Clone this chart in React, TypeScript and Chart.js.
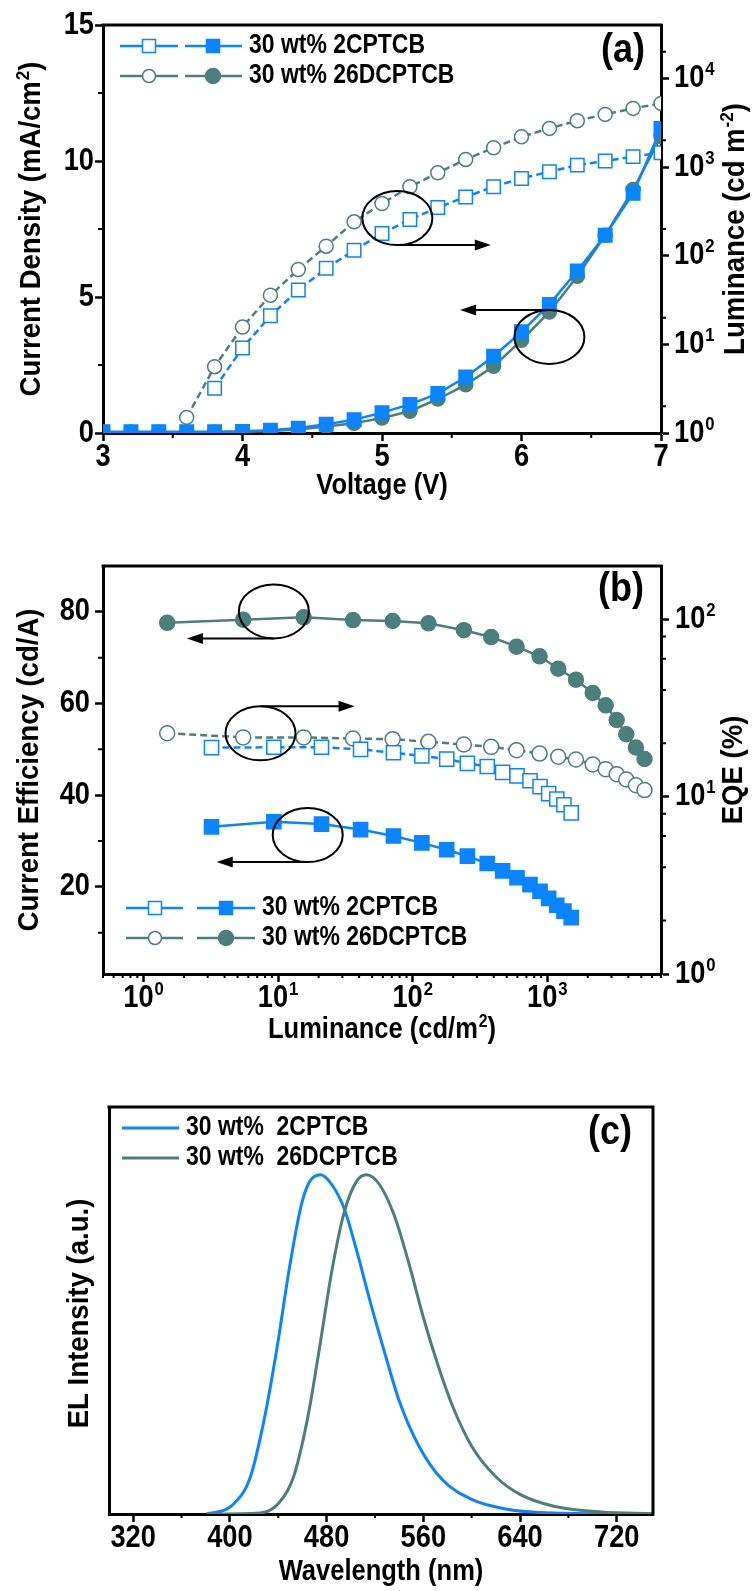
import React, { useEffect, useRef } from 'react';
import { Chart, registerables } from 'chart.js';

Chart.register(...registerables);

const FONT = "'Liberation Sans', Arial, sans-serif";
const BLUE = '#0a84ff';
const TEAL = '#4a7f7c';
const INK = '#000000';

// ---------------- Panel (a) ----------------
const voltage = [3.0, 3.2, 3.4, 3.6, 3.8, 4.0, 4.2, 4.4, 4.6, 4.8, 5.0, 5.2, 5.4, 5.6, 5.8, 6.0, 6.2, 6.4, 6.6, 6.8, 7.0];
const currentDensity2CPTCB = [0.05, 0.05, 0.05, 0.05, 0.05, 0.06, 0.1, 0.18, 0.32, 0.49, 0.75, 1.05, 1.45, 2.06, 2.82, 3.72, 4.73, 5.96, 7.27, 8.81, 11.2];
const currentDensity26DCPTCB = [0.03, 0.03, 0.03, 0.03, 0.03, 0.04, 0.07, 0.13, 0.24, 0.36, 0.55, 0.8, 1.25, 1.77, 2.45, 3.41, 4.45, 5.76, 7.27, 8.95, 10.9];
const luminance2CPTCB = [null, null, null, null, 3.2, 9.1, 21, 41, 72, 115, 178, 256, 350, 460, 600, 744, 885, 1050, 1170, 1310, 1450];
const luminance26DCPTCB = [null, null, null, 1.5, 5.6, 15.7, 35.8, 69.8, 128, 241, 388, 599, 861, 1218, 1650, 2195, 2728, 3329, 3925, 4586, 5224];
const voltageTicks = [3, 4, 5, 6, 7];
const voltageMinorTicks = [3.5, 4.5, 5.5, 6.5];
const currentTicks = [0, 5, 10, 15];
const currentMinorTicks = [2.5, 7.5, 12.5];
const luminanceTicksA = [1, 10, 100, 1000, 10000];
const luminanceExpA = ['0', '1', '2', '3', '4'];
const luminanceMinorTicksA = [2, 20, 200, 2000, 20000];
const annotationsA = [
  { cx: 5.11, cy: 7.9, side: 'bottom', toX: 5.78 },
  { cx: 6.2, cy: 3.53, side: 'top', toX: 5.56 },
];

// ---------------- Panel (b) ----------------
const lumB2CPTCB = [3.2, 9.3, 21, 41, 72, 117, 179, 255, 358, 466, 596, 744, 884, 1024, 1177, 1330, 1506];
const ce2CPTCB = [33.1, 34.2, 33.7, 32.5, 31.1, 29.6, 28.1, 26.7, 25.1, 23.5, 22.0, 20.5, 19.05, 17.5, 16.0, 14.7, 13.3];
const eqe2CPTCB = [18.9, 19.0, 19.0, 18.5, 17.7, 17.0, 16.3, 15.4, 14.8, 13.7, 13.1, 12.3, 11.4, 10.4, 9.7, 9.0, 8.1];
const lumB26DCPTCB = [1.5, 5.5, 15.5, 36, 71, 131, 240, 383, 591, 877, 1207, 1634, 2178, 2717, 3280, 3866, 4555, 5281];
const ce26DCPTCB = [77.6, 78.3, 78.8, 78.2, 78.0, 77.5, 76.0, 74.5, 72.4, 70.3, 67.6, 65.2, 62.3, 59.6, 56.4, 53.3, 50.4, 47.9];
const eqe26DCPTCB = [22.8, 21.6, 21.6, 21.3, 21.1, 20.4, 19.7, 19.1, 18.3, 17.5, 16.8, 16.2, 15.2, 14.3, 13.4, 12.5, 11.6, 10.9];
const lumTicksB = [1, 10, 100, 1000];
const lumExpB = ['0', '1', '2', '3'];
const lumMinorTicksB = [0.5, 0.6, 0.7, 0.8, 0.9, 2, 3, 4, 5, 6, 7, 8, 9, 20, 30, 40, 50, 60, 70, 80, 90, 200, 300, 400, 500, 600, 700, 800, 900, 2000, 3000, 4000, 5000, 6000, 7000];
const ceTicks = [20, 40, 60, 80];
const ceMinorTicks = [10, 30, 50, 70];
const eqeTicks = [1, 10, 100];
const eqeExp = ['0', '1', '2'];
const eqeMinorTicks = [2, 4, 6, 8, 20, 40, 60, 80];
const annotationsB = [
  { cx: 9.3, cy: 80.1, side: 'bottom', toX: 2.1 },
  { cx: 7.4, cy: 53.5, side: 'top', toX: 37 },
  { cx: 16.6, cy: 31.3, side: 'bottom', toX: 3.5 },
];

// ---------------- Panel (c) ----------------
const wavelength2CPTCB = [381, 401, 417, 429, 439, 449, 459, 466, 475, 484.5, 494.6, 504.6, 516.5, 528.5, 540.4, 556.4, 576, 600, 628, 667, 750];
const intensity2CPTCB = [0, 0.023, 0.11, 0.29, 0.49, 0.72, 0.91, 0.98, 1.0, 0.97, 0.9, 0.78, 0.62, 0.47, 0.33, 0.2, 0.1, 0.043, 0.015, 0.003, 0];
const wavelength26DCPTCB = [381, 425, 440.7, 452.7, 464.7, 474.6, 484.5, 494.6, 504.6, 513, 524, 536, 548, 560, 572, 584, 600, 620, 640, 668, 707.5, 750];
const intensity26DCPTCB = [0, 0.003, 0.033, 0.11, 0.29, 0.5, 0.72, 0.89, 0.98, 1.0, 0.97, 0.88, 0.74, 0.58, 0.44, 0.32, 0.2, 0.11, 0.058, 0.023, 0.006, 0.001];
const wavelengthTicks = [320, 400, 480, 560, 640, 720];
const wavelengthMinorTicks = [360, 440, 520, 600, 680];

const LABEL_2 = '30 wt% 2CPTCB';
const LABEL_26 = '30 wt% 26DCPTCB';
const LABEL_2C = '30 wt%  2CPTCB';
const LABEL_26C = '30 wt%  26DCPTCB';

// ---------------- text styles ----------------
const TICK = { size: 31, sx: 0.88 };
const HTITLE = { size: 29, sx: 0.88 };
const VTITLE = { size: 29, sx: 0.95 };
const LEGEND = { size: 27, sx: 0.85 };
const PANEL = { size: 40, sx: 0.9 };

const grid = { display: true, drawOnChartArea: false, drawTicks: true, tickLength: 8, tickWidth: 2.5, tickColor: INK };
const border = { display: true, color: INK, width: 3 };
const RX = 35;
const RY = 27;

const pts = (xs: number[], ys: (number | null)[]) => xs.map((x, i) => ({ x, y: ys[i] }));
const fixTicks = (vals: number[]) => (s: any) => { s.ticks = vals.map((v) => ({ value: v })); };

type Part = { t: string; sup?: boolean };

// Draws text made of normal and superscript parts, horizontally condensed by sx.
function rich(ctx: CanvasRenderingContext2D, parts: Part[], x: number, y: number, st: { size: number; sx: number }, align: 'left' | 'center' | 'right' = 'center', rot = 0) {
  ctx.save();
  ctx.translate(x, y);
  if (rot) ctx.rotate(rot);
  ctx.scale(st.sx, 1);
  ctx.fillStyle = INK;
  ctx.textBaseline = 'middle';
  ctx.textAlign = 'left';
  const supSize = Math.round(st.size * 0.62);
  const widths = parts.map((p) => {
    ctx.font = `bold ${p.sup ? supSize : st.size}px ${FONT}`;
    return ctx.measureText(p.t).width + (p.sup ? 1 : 0);
  });
  const total = widths.reduce((a, b) => a + b, 0);
  let cx = align === 'center' ? -total / 2 : align === 'right' ? -total : 0;
  parts.forEach((p, i) => {
    ctx.font = `bold ${p.sup ? supSize : st.size}px ${FONT}`;
    ctx.fillText(p.t, cx + (p.sup ? 1 : 0), p.sup ? -st.size * 0.28 : 0);
    cx += widths[i];
  });
  ctx.restore();
}

const plain = (t: string): Part[] => [{ t }];
const pow10 = (e: string): Part[] => [{ t: '10' }, { t: e, sup: true }];

function drawMinor(chart: any, id: string, values: number[], len: number) {
  const s = chart.scales[id];
  const a = chart.chartArea;
  const ctx = chart.ctx;
  ctx.save();
  ctx.strokeStyle = INK;
  ctx.lineWidth = 2;
  ctx.beginPath();
  for (const v of values) {
    const p = s.getPixelForValue(v);
    if (s.isHorizontal()) {
      ctx.moveTo(p, a.bottom); ctx.lineTo(p, a.bottom + len);
    } else if (s.position === 'left') {
      ctx.moveTo(a.left, p); ctx.lineTo(a.left - len, p);
    } else {
      ctx.moveTo(a.right, p); ctx.lineTo(a.right + len, p);
    }
  }
  ctx.stroke();
  ctx.restore();
}

// Tick labels placed through the chart's own scales.
function tickLabels(chart: any, id: string, values: number[], label: (v: number, i: number) => Part[], gap: number) {
  const s = chart.scales[id];
  const a = chart.chartArea;
  const ctx = chart.ctx;
  values.forEach((v, i) => {
    const p = s.getPixelForValue(v);
    if (s.isHorizontal()) rich(ctx, label(v, i), p, a.bottom + gap, TICK, 'center');
    else if (s.position === 'left') rich(ctx, label(v, i), a.left - gap, p, TICK, 'right');
    else rich(ctx, label(v, i), a.right + gap, p, TICK, 'left');
  });
}

function drawFrame(chart: any, right: boolean) {
  const ctx = chart.ctx;
  const a = chart.chartArea;
  ctx.save();
  ctx.strokeStyle = INK;
  ctx.lineWidth = 3;
  ctx.beginPath();
  ctx.moveTo(a.left - 1.5, a.top);
  ctx.lineTo(a.right + 1.5, a.top);
  if (right) {
    ctx.moveTo(a.right, a.top);
    ctx.lineTo(a.right, a.bottom + 1.5);
  }
  ctx.stroke();
  ctx.restore();
}

function drawMarker(ctx: CanvasRenderingContext2D, shape: string, x: number, y: number, size: number, color: string, filled: boolean) {
  ctx.save();
  ctx.beginPath();
  if (shape === 'rect') ctx.rect(x - size / 2, y - size / 2, size, size);
  else ctx.arc(x, y, size / 2, 0, Math.PI * 2);
  ctx.fillStyle = filled ? color : '#ffffff';
  ctx.fill();
  ctx.lineWidth = 1.5;
  ctx.strokeStyle = color;
  ctx.stroke();
  ctx.restore();
}

function drawSymbolLegend(ctx: CanvasRenderingContext2D, rows: any[], geo: any) {
  for (const r of rows) {
    ctx.save();
    ctx.strokeStyle = r.color;
    ctx.lineWidth = 2.5;
    ctx.beginPath();
    ctx.moveTo(geo.o0, r.y); ctx.lineTo(geo.o1, r.y);
    ctx.moveTo(geo.f0, r.y); ctx.lineTo(geo.f1, r.y);
    ctx.stroke();
    ctx.restore();
    drawMarker(ctx, r.shape, geo.om, r.y, 13, r.color, false);
    drawMarker(ctx, r.shape, geo.fm, r.y, r.shape === 'rect' ? 13 : 15, r.color, true);
    rich(ctx, plain(r.text), geo.tx, r.y, LEGEND, 'left');
  }
}

function drawAnnotations(chart: any, list: any[], xId: string, yId: string) {
  const ctx = chart.ctx;
  const xs = chart.scales[xId];
  const ys = chart.scales[yId];
  ctx.save();
  ctx.strokeStyle = INK;
  ctx.fillStyle = INK;
  ctx.lineWidth = 2;
  for (const an of list) {
    const cx = xs.getPixelForValue(an.cx);
    const cy = ys.getPixelForValue(an.cy);
    ctx.beginPath();
    ctx.ellipse(cx, cy, RX, RY, 0, 0, Math.PI * 2);
    ctx.stroke();
    const ay = an.side === 'top' ? cy - RY : cy + RY;
    const tx = xs.getPixelForValue(an.toX);
    const dir = Math.sign(tx - cx);
    ctx.beginPath();
    ctx.moveTo(cx, ay);
    ctx.lineTo(tx - dir * 10, ay);
    ctx.stroke();
    ctx.beginPath();
    ctx.moveTo(tx, ay);
    ctx.lineTo(tx - dir * 16, ay - 5.5);
    ctx.lineTo(tx - dir * 16, ay + 5.5);
    ctx.closePath();
    ctx.fill();
  }
  ctx.restore();
}

const baseOptions = {
  responsive: false,
  animation: false as const,
  devicePixelRatio: 1,
  events: [] as any[],
  plugins: { legend: { display: false }, tooltip: { enabled: false } },
};

function lineSet(data: any[], color: string, yAxisID: string, shape: string, filled: boolean, radius: number, dashed: boolean) {
  return {
    data,
    yAxisID,
    borderColor: color,
    borderWidth: 2.5,
    borderDash: dashed ? [7, 4] : [],
    pointStyle: shape,
    pointRadius: radius,
    pointBackgroundColor: filled ? color : '#ffffff',
    pointBorderColor: color,
    pointBorderWidth: 1.5,
    tension: 0,
    spanGaps: false,
  };
}

const axis = (extra: any) => ({ ticks: { display: false }, grid, border, title: { display: false }, ...extra });

// ---------------- configs ----------------
function configA(): any {
  return {
    type: 'line',
    data: {
      datasets: [
        lineSet(pts(voltage, luminance2CPTCB), BLUE, 'y1', 'rect', false, 9.5, true),
        lineSet(pts(voltage, luminance26DCPTCB), TEAL, 'y1', 'circle', false, 7, true),
        lineSet(pts(voltage, currentDensity2CPTCB), BLUE, 'y', 'rect', true, 9.5, false),
        lineSet(pts(voltage, currentDensity26DCPTCB), TEAL, 'y', 'circle', true, 7, false),
      ],
    },
    options: {
      ...baseOptions,
      layout: { padding: { top: 25, left: 0, right: 0, bottom: 0 } },
      scales: {
        x: axis({ type: 'linear', min: 3, max: 7, afterBuildTicks: fixTicks(voltageTicks), afterFit: (s: any) => { s.height = 87; } }),
        y: axis({ type: 'linear', position: 'left', min: 0, max: 15, afterBuildTicks: fixTicks(currentTicks), afterFit: (s: any) => { s.width = 103; } }),
        y1: axis({ type: 'logarithmic', position: 'right', min: 1, max: 40000, afterBuildTicks: fixTicks(luminanceTicksA), afterFit: (s: any) => { s.width = 91; } }),
      },
    },
    plugins: [{
      id: 'decorA',
      afterDraw(chart: any) {
        const ctx = chart.ctx;
        const a = chart.chartArea;
        drawFrame(chart, false);
        drawMinor(chart, 'x', voltageMinorTicks, 5);
        drawMinor(chart, 'y', currentMinorTicks, 5);
        drawMinor(chart, 'y1', luminanceMinorTicksA, 5);
        tickLabels(chart, 'x', voltageTicks, (v) => plain(String(v)), 24);
        tickLabels(chart, 'y', currentTicks, (v) => plain(String(v)), 9);
        tickLabels(chart, 'y1', luminanceTicksA, (_v, i) => pow10(luminanceExpA[i]), 13);
        rich(ctx, plain('Voltage (V)'), (a.left + a.right) / 2, 486, HTITLE);
        rich(ctx, [{ t: 'Current Density (mA/cm' }, { t: '2', sup: true }, { t: ')' }], 32, (a.top + a.bottom) / 2, VTITLE, 'center', -Math.PI / 2);
        rich(ctx, [{ t: 'Luminance (cd m' }, { t: '-2', sup: true }, { t: ')' }], 736, (a.top + a.bottom) / 2, VTITLE, 'center', -Math.PI / 2);
        drawSymbolLegend(ctx, [
          { y: 46, color: BLUE, shape: 'rect', text: LABEL_2 },
          { y: 76, color: TEAL, shape: 'circle', text: LABEL_26 },
        ], { o0: 120, o1: 178, om: 149, f0: 185, f1: 242, fm: 213, tx: 249 });
        rich(ctx, plain('(a)'), 623, 51, PANEL);
        drawAnnotations(chart, annotationsA, 'x', 'y');
      },
    }],
  };
}

function configB(): any {
  return {
    type: 'line',
    data: {
      datasets: [
        lineSet(pts(lumB2CPTCB, eqe2CPTCB), BLUE, 'y1', 'rect', false, 10, true),
        lineSet(pts(lumB26DCPTCB, eqe26DCPTCB), TEAL, 'y1', 'circle', false, 7.5, true),
        lineSet(pts(lumB2CPTCB, ce2CPTCB), BLUE, 'y', 'rect', true, 10, false),
        lineSet(pts(lumB26DCPTCB, ce26DCPTCB), TEAL, 'y', 'circle', true, 7.5, false),
      ],
    },
    options: {
      ...baseOptions,
      layout: { padding: { top: 26, left: 0, right: 0, bottom: 0 } },
      scales: {
        x: axis({ type: 'logarithmic', min: 0.5, max: 7000, afterBuildTicks: fixTicks(lumTicksB), afterFit: (s: any) => { s.height = 86; } }),
        y: axis({ type: 'linear', position: 'left', min: 1, max: 90, afterBuildTicks: fixTicks(ceTicks), afterFit: (s: any) => { s.width = 103; } }),
        y1: axis({ type: 'logarithmic', position: 'right', min: 1, max: 200, afterBuildTicks: fixTicks(eqeTicks), afterFit: (s: any) => { s.width = 91; } }),
      },
    },
    plugins: [{
      id: 'decorB',
      afterDraw(chart: any) {
        const ctx = chart.ctx;
        const a = chart.chartArea;
        drawFrame(chart, false);
        drawMinor(chart, 'x', lumMinorTicksB, 4);
        drawMinor(chart, 'y', ceMinorTicks, 5);
        drawMinor(chart, 'y1', eqeMinorTicks, 5);
        tickLabels(chart, 'x', lumTicksB, (_v, i) => pow10(lumExpB[i]), 24);
        tickLabels(chart, 'y', ceTicks, (v) => plain(String(v)), 13);
        tickLabels(chart, 'y1', eqeTicks, (_v, i) => pow10(eqeExp[i]), 14);
        rich(ctx, [{ t: 'Luminance (cd/m' }, { t: '2', sup: true }, { t: ')' }], (a.left + a.right) / 2, 490, HTITLE);
        rich(ctx, plain('Current Efficiency (cd/A)'), 30, (a.top + a.bottom) / 2, VTITLE, 'center', -Math.PI / 2);
        rich(ctx, plain('EQE (%)'), 734, (a.top + a.bottom) / 2, VTITLE, 'center', -Math.PI / 2);
        drawSymbolLegend(ctx, [
          { y: 368, color: BLUE, shape: 'rect', text: LABEL_2 },
          { y: 398, color: TEAL, shape: 'circle', text: LABEL_26 },
        ], { o0: 126, o1: 183, om: 155, f0: 197, f1: 255, fm: 226, tx: 262 });
        rich(ctx, plain('(b)'), 621, 50, PANEL);
        drawAnnotations(chart, annotationsB, 'x', 'y');
      },
    }],
  };
}

function configC(): any {
  const spectrum = (xs: number[], ys: number[], color: string) => ({
    data: pts(xs, ys),
    borderColor: color,
    borderWidth: 3,
    pointRadius: 0,
    cubicInterpolationMode: 'monotone',
  });
  return {
    type: 'line',
    data: {
      datasets: [
        spectrum(wavelength26DCPTCB, intensity26DCPTCB, TEAL),
        spectrum(wavelength2CPTCB, intensity2CPTCB, BLUE),
      ],
    },
    options: {
      ...baseOptions,
      layout: { padding: { top: 37, left: 0, right: 99, bottom: 0 } },
      scales: {
        x: axis({ type: 'linear', min: 300, max: 750, afterBuildTicks: fixTicks(wavelengthTicks), afterFit: (s: any) => { s.height = 77; } }),
        y: axis({ type: 'linear', position: 'left', min: 0, max: 1.2, grid: { display: false }, afterFit: (s: any) => { s.width = 109; } }),
      },
    },
    plugins: [{
      id: 'decorC',
      afterDraw(chart: any) {
        const ctx = chart.ctx;
        const a = chart.chartArea;
        drawFrame(chart, true);
        drawMinor(chart, 'x', wavelengthMinorTicks, 4);
        tickLabels(chart, 'x', wavelengthTicks, (v) => plain(String(v)), 24);
        rich(ctx, plain('Wavelength (nm)'), (a.left + a.right) / 2, 502, HTITLE);
        rich(ctx, plain('EL Intensity (a.u.)'), 80, (a.top + a.bottom) / 2 + 3, VTITLE, 'center', -Math.PI / 2);
        const rows = [
          { y: 58, color: BLUE, text: LABEL_2C },
          { y: 88, color: TEAL, text: LABEL_26C },
        ];
        for (const r of rows) {
          ctx.save();
          ctx.strokeStyle = r.color;
          ctx.lineWidth = 3;
          ctx.beginPath();
          ctx.moveTo(122, r.y);
          ctx.lineTo(179, r.y);
          ctx.stroke();
          ctx.restore();
          rich(ctx, plain(r.text), 186, r.y, LEGEND, 'left');
        }
        rich(ctx, plain('(c)'), 610, 63, PANEL);
      },
    }],
  };
}

function ChartPanel({ top, height, build }: { top: number; height: number; build: () => any }) {
  const ref = useRef<HTMLCanvasElement>(null);
  useEffect(() => {
    if (!ref.current) return;
    const chart = new Chart(ref.current, build());
    return () => chart.destroy();
  }, []);
  return (
    <canvas
      ref={ref}
      width={752}
      height={height}
      style={{ position: 'absolute', left: 0, top, width: 752, height, display: 'block' }}
    />
  );
}

export default function App() {
  return (
    <div style={{ position: 'absolute', left: 0, top: 0, width: 752, height: 1591, background: '#ffffff', overflow: 'hidden' }}>
      <ChartPanel top={0} height={520} build={configA} />
      <ChartPanel top={540} height={520} build={configB} />
      <ChartPanel top={1070} height={521} build={configC} />
    </div>
  );
}
